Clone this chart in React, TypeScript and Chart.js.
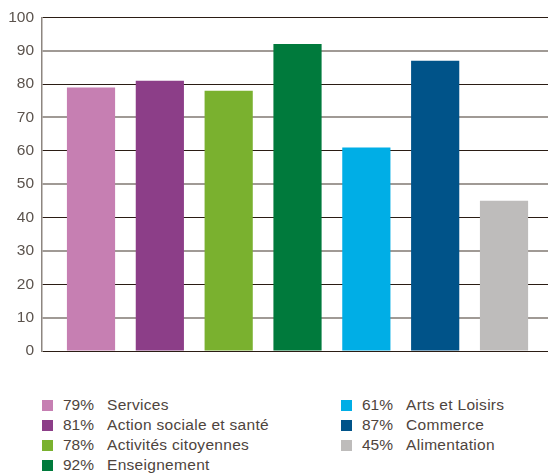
import React, { useEffect, useRef } from "react";
import { Chart, registerables } from "chart.js";

Chart.register(...registerables);

const categories = [
  "Services",
  "Action sociale et santé",
  "Activités citoyennes",
  "Enseignement",
  "Arts et Loisirs",
  "Commerce",
  "Alimentation",
];
const values = [79, 81, 78, 92, 61, 87, 45];
const colors = ["#c67fb2", "#8c3e88", "#7ab12f", "#007a3c", "#00aee6", "#005389", "#bebcbb"];
const yTicks = [0, 10, 20, 30, 40, 50, 60, 70, 80, 90, 100];

const FONT = "'Liberation Sans', Arial, sans-serif";

export default function App() {
  const ref = useRef<HTMLCanvasElement>(null);

  useEffect(() => {
    if (!ref.current) return;
    const isMajor = (c: any) => {
      const v = c && c.tick ? c.tick.value : yTicks[c.index];
      return Math.round(v) % 20 === 0;
    };
    const chart = new Chart(ref.current, {
      type: "bar",
      data: {
        datasets: [
          {
            data: values.map((v, i) => ({ x: i, y: v })),
            backgroundColor: colors,
            borderWidth: 0,
            barPercentage: 0.7,
            categoryPercentage: 1,
          },
        ],
      },
      options: {
        animation: false,
        responsive: false,
        maintainAspectRatio: false,
        layout: { padding: { top: 17, bottom: 19, left: 0, right: 0 } },
        plugins: { legend: { display: false }, tooltip: { enabled: false } },
        scales: {
          x: {
            type: "linear",
            offset: false,
            min: -0.712,
            max: 6.639,
            display: false,
          },
          y: {
            min: 0,
            max: 100,
            afterBuildTicks: (s: any) => {
              s.ticks = yTicks.map((v) => ({ value: v }));
            },
            afterFit: (s: any) => {
              s.width = 42;
            },
            ticks: {
              padding: 8,
              color: "#5b534d",
              font: { family: FONT, size: 15.5 },
            },
            grid: {
              drawTicks: false,
              color: (c: any) => (isMajor(c) ? "#2b1d14" : "#a09a95"),
              lineWidth: (c: any) => (isMajor(c) ? 1 : 2),
            },
            border: { color: "#8d8680", width: 1.5 },
          },
        },
      },
    });
    return () => chart.destroy();
  }, []);

  return (
    <div style={{ position: "fixed", left: 0, top: 0, width: 548, height: 475, background: "#fff" }}>
      <canvas ref={ref} width={548} height={370} style={{ position: "absolute", left: 0, top: 0 }} />
      {categories.map((c, i) => {
        const col = i < 4 ? 0 : 1;
        const row = i < 4 ? i : i - 4;
        const x = col === 0 ? 42 : 341;
        const y = 405 + row * 20;
        return (
          <div
            key={c}
            style={{
              position: "absolute",
              left: x,
              top: y - 10,
              height: 20,
              display: "flex",
              alignItems: "center",
              fontFamily: FONT,
              fontSize: 15.5,
              color: "#4e443d",
              whiteSpace: "nowrap",
            }}
          >
            <span style={{ width: 11, height: 11, background: colors[i], display: "inline-block" }} />
            <span style={{ position: "absolute", left: 21 }}>{values[i]}%</span>
            <span style={{ position: "absolute", left: 65, letterSpacing: 0.3 }}>{c}</span>
          </div>
        );
      })}
    </div>
  );
}
